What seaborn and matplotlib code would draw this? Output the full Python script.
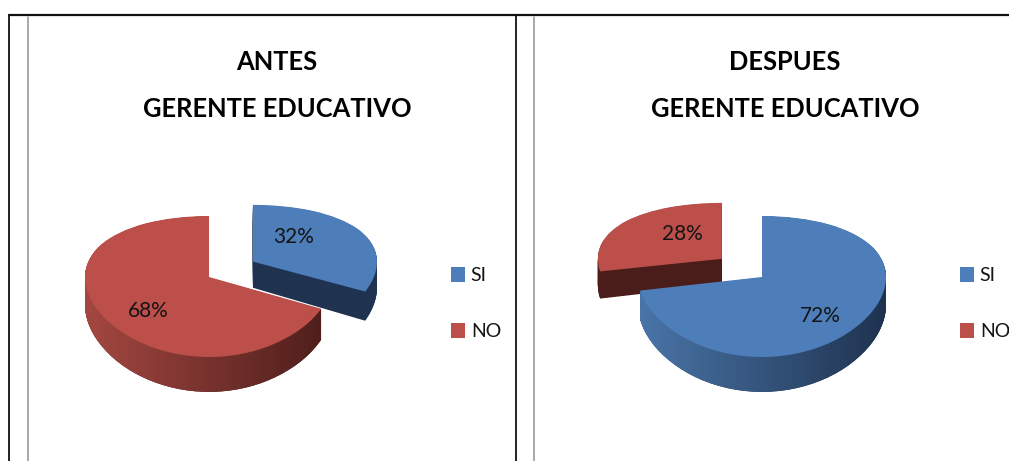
import numpy as np
import matplotlib
matplotlib.use('Agg')
import matplotlib.pyplot as plt
from matplotlib.colors import LinearSegmentedColormap
from matplotlib.lines import Line2D
from matplotlib.path import Path
import seaborn as sns

# Data
labels = ['SI', 'NO']
antes_values = [32, 68]
despues_values = [72, 28]
antes_title = ['ANTES', 'GERENTE EDUCATIVO']
despues_title = ['DESPUES', 'GERENTE EDUCATIVO']

W, H = 1009, 461
RX = 124          # pie radius across, pixels
A, B = 70.5, 9.5  # vertical squash with a bit of perspective, pixels
DEPTH = 0.375     # pie thickness in data units
LAYERS = 40
X_LIM = 1.7
Y_LIM = (-1.6, 1.5)

top_colors = ['#4D7EBA', '#BD4F4B']
side_dark = ['#1F3350', '#4B1D1A']
side_light = ['#4A75A8', '#A44741']

sns.set_theme(style='white')
plt.rcParams['font.family'] = ['Lato', 'DejaVu Sans']


def squash(y):
    return A * y - B * y ** 2


def unsquash(v):
    return (A - np.sqrt(np.maximum(A ** 2 - 4 * B * v, 0))) / (2 * B)


def draw_pie(fig, values, explode, cx, cy, main_idx, pct_pos):
    y_low, y_high = Y_LIM
    top_px = cy - squash(y_high)
    bottom_px = cy - squash(y_low)
    ax = fig.add_axes([(cx - RX * X_LIM) / W, 1 - bottom_px / H,
                       2 * RX * X_LIM / W, (bottom_px - top_px) / H])

    # side of the pie: the same pie stacked downwards
    main_paths = []
    for k in range(LAYERS, 0, -1):
        wedges, _ = ax.pie(values, explode=explode, colors=side_dark, startangle=90,
                           counterclock=False, center=(0, -DEPTH * k / LAYERS),
                           wedgeprops={'linewidth': 0})
        main_paths.append(wedges[main_idx].get_path())

    # horizontal shading on the side of the big slice
    cmap = LinearSegmentedColormap.from_list('side', [side_light[main_idx], side_dark[main_idx]])
    img = ax.imshow(np.linspace(0, 1, 256)[None, :], cmap=cmap, aspect='auto', zorder=1.5,
                    extent=(-1, 1, 0, 1), transform=ax.get_xaxis_transform())
    img.set_clip_path(Path.make_compound_path(*main_paths), ax.transData)

    wedges, _, autotexts = ax.pie(values, explode=explode, colors=top_colors, startangle=90,
                                  counterclock=False, autopct='%d%%',
                                  wedgeprops={'zorder': 2, 'linewidth': 0})
    for t, (px, py) in zip(autotexts, pct_pos):
        t.set_transform(fig.transFigure)
        t.set_position((px / W, 1 - py / H))
        t.set_fontsize(15)
        t.set_color('#141414')

    ax.set_aspect('auto')
    ax.set_yscale('function', functions=(squash, unsquash))
    ax.set_xlim(-X_LIM, X_LIM)
    ax.set_ylim(y_low, y_high)
    ax.set_xticks([])
    ax.set_yticks([])
    ax.minorticks_off()
    ax.set_zorder(2)
    return wedges


def draw_legend(fig, handles, left_px, top_px):
    fig.legend(handles, labels, loc='upper left', bbox_to_anchor=(left_px / W, 1 - top_px / H),
               frameon=False, fontsize=14, borderpad=0, borderaxespad=0, handlelength=0.72,
               handleheight=0.8, handletextpad=0.3, labelspacing=2.0, labelcolor='#141414')


fig = plt.figure(figsize=(W / 100, H / 100), dpi=100, facecolor='white')

# panel frames
for x0, x1, y0, y1, color, lw in [(9, 1009, 15.5, 15.5, '#111111', 1.6),
                                  (9, 9, 15, 461, '#111111', 1.3),
                                  (515.5, 515.5, 15, 461, '#111111', 1.3),
                                  (27.5, 27.5, 17, 461, '#9a9a9a', 1.2),
                                  (533.5, 533.5, 17, 461, '#9a9a9a', 1.2)]:
    fig.add_artist(Line2D([x0 / W, x1 / W], [1 - y0 / H, 1 - y1 / H], color=color, lw=lw))

left = draw_pie(fig, antes_values, [0.42, 0], 209, 277, 1, [(294, 237), (148, 311)])
right = draw_pie(fig, despues_values, [0, 0.42], 762, 277, 0, [(820, 316), (682, 234)])

for cx, title in [(277, antes_title), (785, despues_title)]:
    for py, line in zip([62, 109], title):
        fig.text(cx / W, 1 - py / H, line, ha='center', va='center',
                 fontsize=18.4, fontweight='bold', color='black')

draw_legend(fig, left, 451, 267)
draw_legend(fig, right, 960, 267)

fig.savefig('out.png', dpi=100)
